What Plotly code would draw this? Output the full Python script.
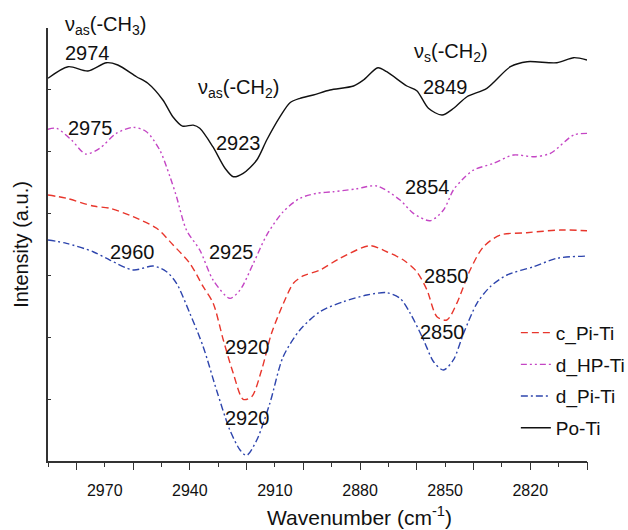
import plotly.graph_objects as go

# ---------------- data (wavenumber cm^-1, intensity a.u.) ----------------
po_x = [2990, 2982.9, 2975.9, 2969.4, 2965.4, 2958.8, 2954.8, 2949.5, 2946.0, 2942.6,
        2938.8, 2936.5, 2931.9, 2927.6, 2924.7, 2921.2, 2916.4, 2912.9, 2908.2, 2904.7,
        2901.2, 2896.5, 2890.6, 2882.3, 2878.8, 2873.7, 2870.6, 2863.5, 2860.0, 2855.9,
        2851.1, 2847.0, 2842.3, 2835.3, 2827.0, 2821.1, 2810.6, 2804.7, 2800]
po_y = [6.187, 6.374, 6.305, 6.439, 6.402, 6.212, 6.106, 5.836, 5.566, 5.415,
        5.430, 5.378, 5.081, 4.732, 4.596, 4.651, 4.866, 5.189, 5.566, 5.792,
        5.863, 5.917, 5.997, 6.062, 6.159, 6.358, 6.293, 6.062, 5.986, 5.702,
        5.593, 5.702, 5.889, 6.025, 6.374, 6.455, 6.439, 6.520, 6.482]

dhp_x = [2990, 2987.0, 2981.7, 2976.7, 2971.8, 2965.9, 2960.0, 2955.3, 2950.6, 2947.0,
         2944.7, 2941.2, 2936.5, 2931.8, 2925.9, 2922.3, 2917.6, 2912.9, 2907.1, 2901.2,
         2895.3, 2889.4, 2881.7, 2874.1, 2865.9, 2861.2, 2855.3, 2850.6, 2847.1, 2844.1,
         2840.0, 2832.9, 2825.9, 2818.8, 2812.9, 2804.7, 2800]
dhp_y = [5.362, 5.378, 5.189, 4.963, 5.055, 5.297, 5.394, 5.323, 5.027, 4.596,
         4.273, 3.734, 3.411, 2.926, 2.630, 2.764, 3.196, 3.653, 4.030, 4.247,
         4.328, 4.353, 4.397, 4.446, 4.219, 4.004, 3.885, 4.058, 4.381, 4.542,
         4.704, 4.813, 4.947, 4.919, 4.974, 5.270, 5.297]

cpi_x = [2990, 2983.5, 2974.1, 2968.2, 2960.0, 2951.7, 2945.9, 2940.0, 2935.3, 2931.8,
         2928.2, 2924.7, 2921.2, 2918.2, 2914.7, 2911.2, 2906.5, 2903.5, 2900.1, 2894.1,
         2887.1, 2876.5, 2870.6, 2864.7, 2860.0, 2856.4, 2852.9, 2849.4, 2845.9, 2841.2,
         2836.5, 2830.6, 2821.2, 2809.4, 2800]
cpi_y = [4.300, 4.247, 4.122, 4.085, 3.949, 3.762, 3.492, 3.196, 2.818, 2.554,
         1.956, 1.418, 0.997, 1.039, 1.471, 2.064, 2.603, 2.873, 2.991, 3.088,
         3.277, 3.480, 3.383, 3.249, 3.060, 2.764, 2.333, 2.279, 2.549, 3.088,
         3.464, 3.653, 3.691, 3.734, 3.723]

dpi_x = [2990, 2983.5, 2974.1, 2968.2, 2960.0, 2952.9, 2948.2, 2944.7, 2940.0, 2935.3,
         2930.6, 2925.9, 2922.3, 2920.0, 2916.4, 2911.8, 2907.1, 2901.2, 2894.1, 2885.9,
         2877.6, 2870.6, 2865.9, 2862.3, 2857.6, 2854.1, 2850.6, 2847.1, 2843.5, 2838.8,
         2834.1, 2828.2, 2818.8, 2810.6, 2800]
dpi_y = [3.573, 3.519, 3.383, 3.249, 3.088, 3.152, 3.060, 2.873, 2.388, 1.848,
         1.148, 0.501, 0.178, 0.090, 0.339, 0.933, 1.686, 2.118, 2.414, 2.575,
         2.683, 2.721, 2.630, 2.388, 1.956, 1.605, 1.471, 1.633, 2.064, 2.549,
         2.818, 3.007, 3.141, 3.277, 3.314]

x_label_vals = [2970, 2940, 2910, 2880, 2850, 2820]
x_minor_vals = list(range(2990, 2799, -10))
x_major_vals = list(range(2980, 2799, -20))
y_tick_vals = [1, 2, 3, 4, 5, 6]

# peak annotations: (text, x, y) in data units
notes = [
    ("2974", 2976.2, 6.60),
    ("ν<sub>as</sub>(-CH<sub>2</sub>)", 2922.7, 6.02),
    ("2923", 2922.8, 5.146),
    ("2975", 2974.9, 5.378),
    ("ν<sub>s</sub>(-CH<sub>2</sub>)", 2848.0, 6.60),
    ("2849", 2850.0, 6.041),
    ("2854", 2856.2, 4.434),
    ("2960", 2960.1, 3.383),
    ("2925", 2925.3, 3.383),
    ("2920", 2919.7, 1.848),
    ("2920", 2919.8, 0.690),
    ("2850", 2849.7, 2.991),
    ("2850", 2851.0, 2.090),
]
top_note = ("ν<sub>as</sub>(-CH<sub>3</sub>)", 2969.6, 1.0)  # y in axis-domain units

FONT = "Liberation Sans, Arial, sans-serif"

fig = go.Figure()
series = [
    ("c_Pi-Ti", cpi_x, cpi_y, "#e8362c", "7px,4px"),
    ("d_HP-Ti", dhp_x, dhp_y, "#c445c4", "6px,3px,2px,3px,2px,3px"),
    ("d_Pi-Ti", dpi_x, dpi_y, "#2e45ad", "7px,3px,2px,3px"),
    ("Po-Ti", po_x, po_y, "#111111", "solid"),
]
for i, (name, xs, ys, col, dash) in enumerate(series):
    fig.add_trace(go.Scatter(
        x=xs, y=ys, mode="lines", name=name, legendgroup=str(i),
        line=dict(color=col, width=1.4, dash=dash, shape="spline", smoothing=0.8),
    ))

# empty overlay trace carrying the long-tick axis
fig.add_trace(go.Scatter(x=[2990, 2800], y=[None, None], xaxis="x2", showlegend=False,
                         hoverinfo="skip"))

for text, xv, yv in notes:
    fig.add_annotation(x=xv, y=yv, text=text, showarrow=False,
                       font=dict(family=FONT, size=20, color="#111111"),
                       xanchor="center", yanchor="middle")

fig.add_annotation(x=top_note[1], y=top_note[2], yref="y domain", text=top_note[0],
                   showarrow=False, font=dict(family=FONT, size=20, color="#111111"),
                   xanchor="center", yanchor="bottom", yshift=-12)

# x-axis title (offset right as in the reference)
fig.add_annotation(x=0.577, y=0, xref="paper", yref="paper", yshift=-55,
                   text="Wavenumber (cm<sup>-1</sup>)", showarrow=False,
                   font=dict(family=FONT, size=21, color="#111111"),
                   xanchor="center", yanchor="middle")

fig.update_layout(
    width=628, height=530,
    margin=dict(l=48, r=41, t=28, b=69, autoexpand=False),
    paper_bgcolor="white", plot_bgcolor="white",
    font=dict(family=FONT, color="#111111"),
    showlegend=True,
    legend=dict(x=0.868, y=0.34, xanchor="left", yanchor="top",
                font=dict(family=FONT, size=19, color="#111111"),
                bgcolor="rgba(0,0,0,0)", traceorder="grouped", tracegroupgap=4,
                itemwidth=30),
    xaxis=dict(
        range=[2990, 2800], tickmode="array", tickvals=x_label_vals,
        ticktext=[str(v) for v in x_label_vals], ticks="", ticklabelstandoff=14,
        tickfont=dict(family=FONT, size=16, color="#111111"),
        showline=True, linecolor="#333333", linewidth=1.5, showgrid=False, zeroline=False,
        minor=dict(tickmode="array", tickvals=x_minor_vals, ticks="outside",
                   ticklen=4, tickwidth=1.3, tickcolor="#333333", showgrid=False),
    ),
    xaxis2=dict(
        range=[2990, 2800], overlaying="x", anchor="y", side="bottom",
        tickmode="array", tickvals=x_major_vals, ticks="outside", ticklen=8,
        tickwidth=1.3, tickcolor="#333333", showticklabels=False, showline=False,
        showgrid=False, zeroline=False,
    ),
    yaxis=dict(
        range=[0, 7], tickmode="array", tickvals=y_tick_vals, ticks="inside",
        ticklen=3, tickwidth=1.3, tickcolor="#333333", showticklabels=False,
        showline=True, linecolor="#333333", linewidth=1.5, showgrid=False, zeroline=False,
        title=dict(text="Intensity (a.u.)", font=dict(family=FONT, size=20), standoff=12),
    ),
)

fig.write_html("out.html")
